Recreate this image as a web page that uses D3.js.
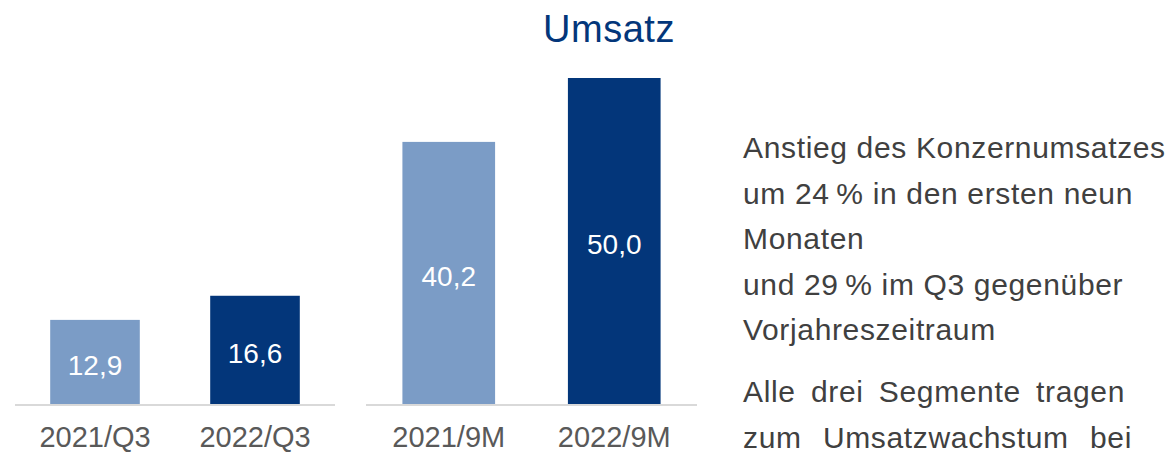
<!DOCTYPE html>
<html>
<head>
<meta charset="utf-8">
<script src="https://cdn.jsdelivr.net/npm/d3@7"></script>
<style>
  html, body { margin: 0; padding: 0; background: #fff; }
  svg { display: block; font-family: "Liberation Sans", Arial, sans-serif; }
</style>
</head>
<body>
<svg id="chart"></svg>
<script>
// Data
const quarterCategories = ['2021/Q3', '2022/Q3'];
const quarterValues = [12.9, 16.6];
const nineMonthCategories = ['2021/9M', '2022/9M'];
const nineMonthValues = [40.2, 50.0];
const barColors = ['#7b9cc6', '#03367a'];
const title = 'Umsatz';
const noteLines = [
  'Anstieg des Konzernumsatzes',
  'um 24\u2009% in den ersten neun',
  'Monaten',
  'und 29\u2009% im Q3 gegenüber',
  'Vorjahreszeitraum',
  'Alle drei Segmente tragen',
  'zum Umsatzwachstum bei'
];

const width = 1174, height = 453;
const baseline = 404;
const fmt = v => d3.format('.1f')(v).replace('.', ',');

// layout of the side note: right edge for justified lines, extra gap before paragraphs
const noteX = 743, lineStep = 45.5;
const noteRight = [null, 1133, null, 1122, null, 1125, 1132];
const noteGap = [0, 0, 0, 0, 0, 16.5, 0];

const svg = d3.select('#chart')
  .attr('width', width)
  .attr('height', height);

// shared value scale for both panels
const y = d3.scaleLinear()
  .domain([0, 50])
  .range([baseline, 78]);

// Draw one panel of two bars
const drawPanel = (categories, values, range) => {
  const x = d3.scaleBand()
    .domain(categories)
    .range(range)
    .paddingInner(0.44)
    .paddingOuter(0.22);

  const g = svg.append('g');

  g.selectAll('rect')
    .data(values)
    .enter()
    .append('rect')
    .attr('x', (d, i) => x(categories[i]))
    .attr('y', d => y(d))
    .attr('width', x.bandwidth())
    .attr('height', d => y(0) - y(d))
    .attr('fill', (d, i) => barColors[i]);

  // axis line
  g.append('line')
    .attr('x1', range[0])
    .attr('x2', range[1])
    .attr('y1', baseline + 1)
    .attr('y2', baseline + 1)
    .attr('stroke', '#d9d9d9')
    .attr('stroke-width', 2);

  // value labels inside bars
  g.selectAll('.value')
    .data(values)
    .enter()
    .append('text')
    .attr('class', 'value')
    .attr('x', (d, i) => x(categories[i]) + x.bandwidth() / 2)
    .attr('y', d => (y(d) + y(0)) / 2 + 13)
    .attr('text-anchor', 'middle')
    .attr('fill', '#fff')
    .style('font-size', '28px')
    .text(d => fmt(d));

  // category labels
  const axis = d3.axisBottom(x).tickSize(0).tickPadding(0);
  const ax = g.append('g')
    .attr('transform', `translate(0,${baseline + 22})`)
    .call(axis);
  ax.select('.domain').remove();
  ax.selectAll('text')
    .attr('fill', '#595959')
    .attr('dy', '0.71em')
    .style('font-family', '"Liberation Sans", Arial, sans-serif')
    .style('font-size', '29px');
};

drawPanel(quarterCategories, quarterValues, [15, 335]);
drawPanel(nineMonthCategories, nineMonthValues, [366, 697]);

// Title
svg.append('text')
  .attr('x', 609)
  .attr('y', 42)
  .attr('text-anchor', 'middle')
  .attr('fill', '#03367a')
  .style('font-size', '38px')
  .style('letter-spacing', '0.5px')
  .text(title);

// Side note, justified lines
let ly = 158;
noteLines.forEach((line, i) => {
  if (i > 0) ly += lineStep + noteGap[i];
  const t = svg.append('text')
    .attr('x', noteX)
    .attr('y', ly)
    .attr('fill', '#404040')
    .style('font-size', '30px')
    .style('letter-spacing', '0.65px')
    .text(line);
  if (noteRight[i]) {
    const words = line.split(' ').length;
    const extra = noteRight[i] - noteX - t.node().getComputedTextLength();
    if (extra > 0 && words > 1) t.style('word-spacing', `${extra / (words - 1)}px`);
  }
});
</script>
</body>
</html>
